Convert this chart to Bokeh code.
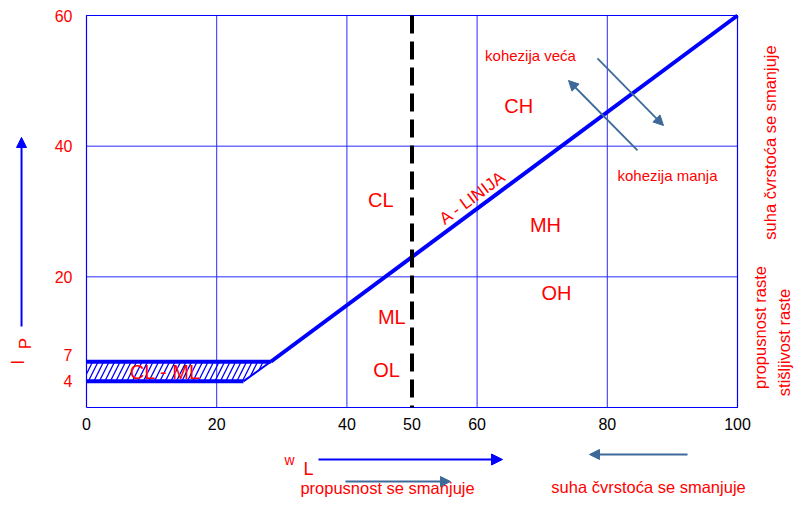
import math
from bokeh.plotting import figure
from bokeh.models import Range1d, Arrow, NormalHead
from bokeh.core.properties import value
from bokeh.embed import file_html
from bokeh.resources import INLINE

# ---------------- data ----------------
x_ticks = [0, 20, 40, 50, 60, 80, 100]
x_tick_labels = ["0", "20", "40", "50", "60", "80", "100"]
y_ticks = [4, 7, 20, 40, 60]
y_tick_labels = ["4", "7", "20", "40", "60"]
grid_x = [20, 40, 60, 80]
grid_y = [20, 40]
wl_min, wl_max = 0, 100
ip_min, ip_max = 0, 60
boundary_wl = 50
a_line_wl = [28.3, 100]
a_line_ip = [7, 60]
clml_wl = [0, 24.1, 28.3, 0]
clml_ip = [4, 4, 7, 7]
region_names = ["CH", "CL", "MH", "OH", "ML", "OL"]
region_wl = [66.4, 45.2, 70.5, 72.2, 46.9, 46.1]
region_ip = [46.2, 31.7, 27.9, 17.6, 13.8, 5.7]

RED = "#ff0000"
BLUE = "#0000ff"
STEEL = "#3d6a99"
FONT = value("Liberation Sans")

W, H = 797, 498
sx = 6.51      # px per wL unit
sy = 6.5333    # px per Ip unit
p = figure(width=W, height=H, output_backend="svg", toolbar_location=None,
           x_range=Range1d(-86 / sx, 100 + (W - 737) / sx),
           y_range=Range1d(-(H - 407) / sy, 60 + 15 / sy),
           x_axis_type=None, y_axis_type=None, title=None,
           min_border=0, outline_line_color=None,
           background_fill_color="white", border_fill_color="white")

# grid lines
p.segment(x0=grid_x, y0=[ip_min] * len(grid_x), x1=grid_x, y1=[ip_max] * len(grid_x),
          line_color="#2a2aff", line_width=1)
p.segment(x0=[wl_min] * len(grid_y), y0=grid_y, x1=[wl_max] * len(grid_y), y1=grid_y,
          line_color="#2a2aff", line_width=1)
# frame
p.line([wl_min, wl_max, wl_max, wl_min, wl_min], [ip_min, ip_min, ip_max, ip_max, ip_min],
       line_color=BLUE, line_width=1.2)

# hatched CL-ML band
p.patch(clml_wl, clml_ip, fill_color=None, line_color=None,
        hatch_pattern="/", hatch_color=BLUE, hatch_scale=11, hatch_weight=1.3)
p.line([clml_wl[0], clml_wl[1]], [clml_ip[0], clml_ip[1]], line_color=BLUE, line_width=4)
p.line([clml_wl[3], clml_wl[2]], [clml_ip[3], clml_ip[2]], line_color=BLUE, line_width=4)
p.line([clml_wl[1], clml_wl[2]], [clml_ip[1], clml_ip[2]], line_color=BLUE, line_width=2)

# A-line
p.line(a_line_wl, a_line_ip, line_color=BLUE, line_width=4)

# wL = 50 boundary
p.line([boundary_wl, boundary_wl], [ip_max, ip_min], line_color="black",
       line_width=4, line_dash="18 8")

# tick labels
p.text(x=x_ticks, y=[-2.45] * len(x_ticks), text=x_tick_labels, text_font=FONT,
       text_font_size="16px", text_color="black", text_align="center",
       text_baseline="middle")
y_label_dy = [0, -7, 0, 0, 0]   # screen-pixel nudges of the y tick labels
p.text(x=[-2.15] * len(y_ticks), y=y_ticks, text=y_tick_labels, y_offset=y_label_dy,
       text_font=FONT, text_font_size="16px", text_color=RED, text_align="right",
       text_baseline="middle")

# region labels
p.text(x=region_wl, y=region_ip, text=region_names, text_font=FONT,
       text_font_size="20px", text_color=RED, text_align="center",
       text_baseline="middle")
p.text(x=[12.1], y=[5.5], text=["CL - ML"], text_font=FONT, text_font_size="20px",
       text_color=RED, text_align="center", text_baseline="middle")
ang = math.atan((a_line_ip[1] - a_line_ip[0]) * sy / ((a_line_wl[1] - a_line_wl[0]) * sx))
p.text(x=[59.3], y=[32.1], text=["A - LINIJA"], angle=ang, text_font=FONT,
       text_font_size="17px", text_color=RED, text_align="center",
       text_baseline="middle")

# cohesion notes
p.text(x=[68.2, 89.25], y=[53.88, 35.51], text=["kohezija veća", "kohezija manja"],
       text_font=FONT, text_font_size="15px", text_color=RED, text_align="center",
       text_baseline="middle")


def arrow(x0, y0, x1, y1, color, width=2, size=10):
    p.add_layout(Arrow(end=NormalHead(size=size, fill_color=color, line_color=color),
                       x_start=x0, y_start=y0, x_end=x1, y_end=y1,
                       line_color=color, line_width=width))


arrow(78.49, 53.42, 88.63, 43.16, STEEL, 1.8, 10)
arrow(84.64, 39.34, 74.04, 50.05, STEEL, 1.8, 10)

# axis titles
arrow(-9.98, 12.4, -9.98, 41.33, BLUE, 2, 10)
p.text(x=[-10.45], y=[6.92], text=["I"], angle=math.pi / 2, text_font=FONT,
       text_font_size="18px", text_color=RED, text_align="center", text_baseline="middle")
p.text(x=[-9.37], y=[9.8], text=["P"], angle=math.pi / 2, text_font=FONT,
       text_font_size="17px", text_color=RED, text_align="center", text_baseline="middle")

p.text(x=[31.18], y=[-8.11], text=["w"], text_font=FONT, text_font_size="14px",
       text_color=RED, text_align="center", text_baseline="middle")
p.text(x=[34.1], y=[-9.34], text=["L"], text_font=FONT, text_font_size="18px",
       text_color=RED, text_align="center", text_baseline="middle")
arrow(35.64, -7.96, 63.9, -7.96, BLUE, 2, 11)

# bottom notes
arrow(39.78, -11.33, 55.91, -11.33, STEEL, 2, 10)
arrow(92.32, -7.19, 77.27, -7.19, STEEL, 2, 10)
p.text(x=[46.24, 86.33], y=[-12.3, -12.2],
       text=["propusnost se smanjuje", "suha čvrstoća se smanjuje"],
       text_font=FONT, text_font_size="16.5px", text_color=RED, text_align="center",
       text_baseline="middle")

# right vertical notes
p.text(x=[104.92, 103.38, 107.07], y=[40.56, 12.24, 9.95],
       text=["suha čvrstoća se smanjuje", "propusnost raste", "stišljivost raste"],
       angle=math.pi / 2, text_font=FONT, text_font_size="16.5px", text_color=RED,
       text_align="center", text_baseline="middle")
p.line([109.6, 109.6], [1.7, 11.9], line_color=RED, line_width=1, line_dash="2 2")

open("out.html", "w").write(file_html(p, INLINE))
